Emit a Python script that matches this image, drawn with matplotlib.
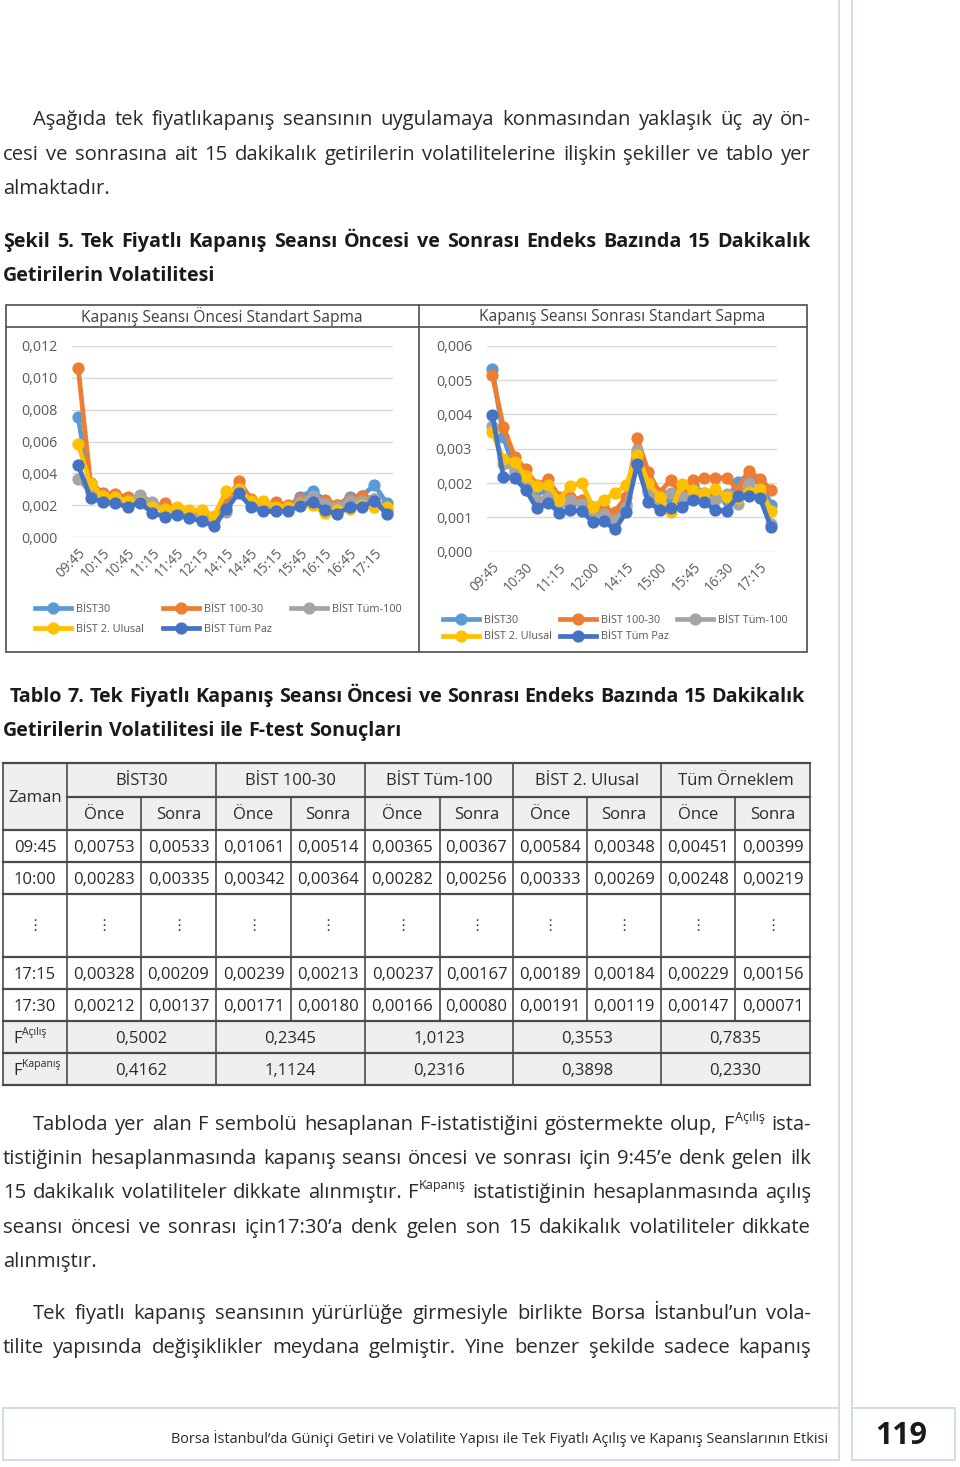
import numpy as np
import matplotlib
matplotlib.use('Agg')
import matplotlib.pyplot as plt
from matplotlib.patches import Rectangle
from matplotlib import font_manager

# 15-minute slots (lunch break between 12:30 and 14:15)
times = ['09:45', '10:00', '10:15', '10:30', '10:45', '11:00', '11:15', '11:30', '11:45',
         '12:00', '12:15', '12:30', '14:15', '14:30', '14:45', '15:00', '15:15', '15:30',
         '15:45', '16:00', '16:15', '16:30', '16:45', '17:00', '17:15', '17:30']
series_names = ['BİST30', 'BİST 100-30', 'BİST Tüm-100', 'BİST 2. Ulusal', 'BİST Tüm Paz']
colors = ['#5B9BD5', '#ED7D31', '#A5A5A5', '#FFC000', '#4472C4']

# standard deviation before the closing session
once_bist30 = [0.00753, 0.00283, 0.00260, 0.00250, 0.00230, 0.00230, 0.00200, 0.00180, 0.00170,
               0.00150, 0.00140, 0.00110, 0.00200, 0.00310, 0.00230, 0.00200, 0.00190, 0.00190,
               0.00255, 0.00292, 0.00230, 0.00200, 0.00255, 0.00260, 0.00328, 0.00212]
once_bist100_30 = [0.01061, 0.00342, 0.00276, 0.00271, 0.00250, 0.00230, 0.00190, 0.00215, 0.00180,
                   0.00160, 0.00150, 0.00120, 0.00210, 0.00355, 0.00240, 0.00200, 0.00220, 0.00200,
                   0.00240, 0.00230, 0.00234, 0.00205, 0.00240, 0.00260, 0.00239, 0.00171]
once_tum100 = [0.00365, 0.00282, 0.00260, 0.00240, 0.00230, 0.00265, 0.00220, 0.00180, 0.00160,
               0.00140, 0.00130, 0.00100, 0.00160, 0.00300, 0.00220, 0.00190, 0.00180, 0.00180,
               0.00220, 0.00260, 0.00210, 0.00190, 0.00230, 0.00230, 0.00237, 0.00166]
once_ulusal2 = [0.00584, 0.00333, 0.00260, 0.00250, 0.00230, 0.00220, 0.00190, 0.00180, 0.00192,
                0.00170, 0.00171, 0.00134, 0.00292, 0.00300, 0.00230, 0.00230, 0.00190, 0.00190,
                0.00200, 0.00200, 0.00150, 0.00170, 0.00180, 0.00200, 0.00189, 0.00191]
once_tumpaz = [0.00451, 0.00248, 0.00219, 0.00213, 0.00190, 0.00217, 0.00154, 0.00129, 0.00138,
               0.00119, 0.00103, 0.00069, 0.00178, 0.00276, 0.00190, 0.00162, 0.00162, 0.00164,
               0.00198, 0.00223, 0.00170, 0.00146, 0.00192, 0.00192, 0.00229, 0.00147]

# standard deviation after the closing session
sonra_bist30 = [0.00533, 0.00335, 0.00233, 0.00210, 0.00180, 0.00172, 0.00150, 0.00140, 0.00140,
                0.00110, 0.00110, 0.00100, 0.00140, 0.00290, 0.00180, 0.00150, 0.00150, 0.00152,
                0.00194, 0.00170, 0.00160, 0.00150, 0.00204, 0.00223, 0.00209, 0.00137]
sonra_bist100_30 = [0.00514, 0.00364, 0.00277, 0.00240, 0.00194, 0.00211, 0.00160, 0.00160, 0.00152,
                    0.00130, 0.00123, 0.00117, 0.00160, 0.00330, 0.00231, 0.00172, 0.00209, 0.00160,
                    0.00209, 0.00214, 0.00214, 0.00216, 0.00180, 0.00236, 0.00213, 0.00180]
sonra_tum100 = [0.00367, 0.00256, 0.00240, 0.00200, 0.00150, 0.00160, 0.00140, 0.00150, 0.00140,
                0.00100, 0.00110, 0.00092, 0.00130, 0.00296, 0.00170, 0.00140, 0.00170, 0.00160,
                0.00170, 0.00160, 0.00150, 0.00167, 0.00140, 0.00200, 0.00167, 0.00080]
sonra_ulusal2 = [0.00348, 0.00269, 0.00262, 0.00220, 0.00192, 0.00194, 0.00152, 0.00192, 0.00201,
                 0.00131, 0.00152, 0.00170, 0.00194, 0.00282, 0.00200, 0.00160, 0.00117, 0.00196,
                 0.00180, 0.00170, 0.00182, 0.00160, 0.00155, 0.00175, 0.00184, 0.00119]
sonra_tumpaz = [0.00399, 0.00219, 0.00214, 0.00180, 0.00126, 0.00143, 0.00114, 0.00121, 0.00119,
                0.00087, 0.00089, 0.00065, 0.00115, 0.00255, 0.00146, 0.00121, 0.00126, 0.00131,
                0.00150, 0.00144, 0.00121, 0.00119, 0.00162, 0.00162, 0.00156, 0.00071]

once = [once_bist30, once_bist100_30, once_tum100, once_ulusal2, once_tumpaz]
sonra = [sonra_bist30, sonra_bist100_30, sonra_tum100, sonra_ulusal2, sonra_tumpaz]

# table 7
table_groups = ['BİST30', 'BİST 100-30', 'BİST Tüm-100', 'BİST 2. Ulusal', 'Tüm Örneklem']
table_rows = [0, 1, 24, 25]  # rows shown: 09:45, 10:00, 17:15, 17:30
f_acilis = [0.5002, 0.2345, 1.0123, 0.3553, 0.7835]
f_kapanis = [0.4162, 1.1124, 0.2316, 0.3898, 0.2330]

W, H = 960, 1467
TEXT = '#2a2a2a'
BODY = ['Open Sans', 'DejaVu Sans']
names = {f.name for f in font_manager.fontManager.ttflist}
NARROW = ['Liberation Sans Narrow', 'DejaVu Sans'] if 'Liberation Sans Narrow' in names else BODY
plt.rcParams['font.family'] = BODY

fig = plt.figure(figsize=(W / 100, H / 100), dpi=100)
page = fig.add_axes([0, 0, 1, 1])
page.set_xlim(0, W)
page.set_ylim(H, 0)
page.axis('off')
renderer = fig.canvas.get_renderer()


def measure(s, size, weight='normal', family=BODY):
    t = page.text(0, 0, s, fontsize=size, fontweight=weight, family=family)
    w = t.get_window_extent(renderer).width
    t.remove()
    return w


def word_parts(word, size):
    # "F^Açılış" -> F with a raised small superscript
    if '^' in word:
        base, sup = word.split('^')
        return [(base, size, 0), (sup, size * 0.62, size * 1.389 * 0.45)]
    return [(word, size, 0)]


def natural_width(line, size, weight, family=BODY):
    words = line.split(' ')
    widths = [sum(measure(s, fs, weight, family) for s, fs, _ in word_parts(w, size)) for w in words]
    space = measure('a a', size, weight, family) - measure('aa', size, weight, family)
    return sum(widths) + space * (len(words) - 1)


def fit_size(lines, size, weight='normal'):
    # one common size for a block of justified lines, so no line overflows
    while any(natural_width(l, size, weight) > x1 - x0 for x0, x1, l in lines):
        size *= 0.99
    return size


def text_line(x0, x1, y, line, size=13.5, weight='normal', justify=True, family=BODY, color=TEXT):
    words = line.split(' ')
    parts = [word_parts(w, size) for w in words]
    widths = [sum(measure(s, fs, weight, family) for s, fs, _ in p) for p in parts]
    space = measure('a a', size, weight, family) - measure('aa', size, weight, family)
    gap = (x1 - x0 - sum(widths)) / (len(words) - 1) if justify else space
    x = x0
    for p, w in zip(parts, widths):
        xx = x
        for s, fs, rise in p:
            page.text(xx, y - rise, s, fontsize=fs, fontweight=weight, family=family,
                      color=color, va='baseline', ha='left')
            xx += measure(s, fs, weight, family)
        x += w + gap


# page decoration: margin rules and footer
rule_c = '#cddbe4'
page.plot([839, 839], [0, 1408], color=rule_c, lw=1.3)
page.plot([852, 852], [0, 1408], color=rule_c, lw=1.3)
page.add_patch(Rectangle((3, 1408), 836, 52, fill=False, ec=rule_c, lw=1.3))
page.add_patch(Rectangle((852, 1408), 103, 52, fill=False, ec=rule_c, lw=1.3))
footer = 'Borsa İstanbul’da Güniçi Getiri ve Volatilite Yapısı ile Tek Fiyatlı Açılış ve Kapanış Seanslarının Etkisi'
fsize = 11 * 658 / measure(footer, 11, family=NARROW)
page.text(828, 1443, footer, fontsize=fsize, family=NARROW, color=TEXT, ha='right', va='baseline')
page.text(901, 1444, '119', fontsize=22, family=NARROW, fontweight='bold', color='#1a1a1a',
          ha='center', va='baseline')

# body text
body_lines = [
    (33, 811, 125, 'Aşağıda tek fiyatlıkapanış seansının uygulamaya konmasından yaklaşık üç ay ön-', True),
    (3, 811, 160, 'cesi ve sonrasına ait 15 dakikalık getirilerin volatilitelerine ilişkin şekiller ve tablo yer', True),
    (3, 811, 194, 'almaktadır.', False),
    (33, 811, 1130, 'Tabloda yer alan F sembolü hesaplanan F-istatistiğini göstermekte olup, F^Açılış ista-', True),
    (3, 811, 1164, 'tistiğinin hesaplanmasında kapanış seansı öncesi ve sonrası için 9:45’e denk gelen ilk', True),
    (3, 811, 1198, '15 dakikalık volatiliteler dikkate alınmıştır. F^Kapanış istatistiğinin hesaplanmasında açılış', True),
    (3, 811, 1233, 'seansı öncesi ve sonrası için17:30’a denk gelen son 15 dakikalık volatiliteler dikkate', True),
    (3, 811, 1267, 'alınmıştır.', False),
    (33, 811, 1319, 'Tek fiyatlı kapanış seansının yürürlüğe girmesiyle birlikte Borsa İstanbul’un vola-', True),
    (3, 811, 1353, 'tilite yapısında değişiklikler meydana gelmiştir. Yine benzer şekilde sadece kapanış', True),
]
head_lines = [
    (3, 811, 247, 'Şekil 5. Tek Fiyatlı Kapanış Seansı Öncesi ve Sonrası Endeks Bazında 15 Dakikalık', True),
    (3, 811, 281, 'Getirilerin Volatilitesi', False),
    (10, 805, 702, 'Tablo 7. Tek Fiyatlı Kapanış Seansı Öncesi ve Sonrası Endeks Bazında 15 Dakikalık', True),
    (3, 811, 736, 'Getirilerin Volatilitesi ile F-test Sonuçları', False),
]
bsize = fit_size([(a, b, l) for a, b, _, l, j in body_lines if j], 15.2)
hsize = fit_size([(a, b, l) for a, b, _, l, j in head_lines if j], 14.8, 'bold')
for x0, x1, y, l, j in body_lines:
    text_line(x0, x1, y, l, size=bsize, justify=j)
for x0, x1, y, l, j in head_lines:
    text_line(x0, x1, y, l, size=hsize, weight='bold', justify=j, color='#1a1a1a')

# figure frame
frame_c = '#5a5a5a'
page.add_patch(Rectangle((6, 305), 801, 347, fill=False, ec=frame_c, lw=1.3))
page.plot([419, 419], [305, 652], color=frame_c, lw=1.3)
page.plot([6, 807], [327, 327], color=frame_c, lw=1.3)
page.text(222, 317, 'Kapanış Seansı Öncesi Standart Sapma', fontsize=11.2, color='#404040',
          ha='center', va='center')
page.text(622, 317, 'Kapanış Seansı Sonrası Standart Sapma', fontsize=11.2, color='#404040',
          ha='center', va='center')


def px_axes(x0, y0, x1, y1):
    return fig.add_axes([x0 / W, 1 - y1 / H, (x1 - x0) / W, (y1 - y0) / H])


def draw_chart(ax, data, ymax, step, every, leg_xy, colspace, rowspace):
    x = np.arange(len(times))
    handles = []
    for vals, name, c in zip(data, series_names, colors):
        h, = ax.plot(x, vals, color=c, lw=3.4, marker='o', ms=7.8, label=name, clip_on=False)
        handles.append(h)
    ax.set_facecolor('none')
    ax.set_xlim(-0.5, len(times) - 0.5)
    ax.set_ylim(0, ymax)
    yt = np.arange(0, ymax + step / 2, step)
    ax.set_yticks(yt)
    ax.set_yticklabels([f'{v:.3f}'.replace('.', ',') for v in yt])
    ax.set_xticks(x[::every])
    ax.set_xticklabels(times[::every], rotation=45, ha='right', rotation_mode='anchor')
    ax.grid(axis='y', color='#d9d9d9', lw=1)
    ax.set_axisbelow(True)
    for s in ax.spines.values():
        s.set_visible(False)
    ax.tick_params(axis='y', length=0, labelsize=10.3, colors='#595959', pad=10.5)
    ax.tick_params(axis='x', length=0, labelsize=9.8, colors='#595959', pad=6)
    order = [0, 3, 1, 4, 2]
    leg = ax.legend([handles[i] for i in order], [series_names[i] for i in order], ncol=3,
                    loc='upper left', bbox_to_anchor=(leg_xy[0] / W, 1 - leg_xy[1] / H),
                    bbox_transform=fig.transFigure, frameon=False, fontsize=7.8,
                    handlelength=3.3, handletextpad=0.45, columnspacing=colspace,
                    labelspacing=rowspace, borderpad=0, borderaxespad=0)
    for t in leg.get_texts():
        t.set_color('#595959')


ax1 = px_axes(72, 345.7, 393, 537.3)
draw_chart(ax1, once, 0.012, 0.002, 2, (35, 604), 1.8, 0.85)
ax2 = px_axes(486.7, 345.7, 776.7, 551.7)
draw_chart(ax2, sonra, 0.006, 0.001, 3, (443, 615), 0.8, 0.5)

# table
col_x = [3, 67, 141, 216, 291, 365, 440, 513, 587, 661, 735, 810]
row_y = [763, 797, 830, 862, 894, 957, 989, 1021, 1053, 1085]
head_bg = '#efefef'
line_c = '#4a4a4a'
tsize = 13.5 if NARROW[0] != 'Open Sans' else 12
page.add_patch(Rectangle((col_x[0], row_y[0]), col_x[-1] - col_x[0], row_y[2] - row_y[0],
                         fc=head_bg, ec='none'))
page.add_patch(Rectangle((col_x[0], row_y[7]), col_x[-1] - col_x[0], row_y[9] - row_y[7],
                         fc=head_bg, ec='none'))
for i, y in enumerate(row_y):
    xs = col_x[1] if i == 1 else col_x[0]
    page.plot([xs, col_x[-1]], [y, y], color=line_c, lw=1.6)
for j, x in enumerate(col_x):
    if j % 2 == 1 or j == 0:
        page.plot([x, x], [row_y[0], row_y[-1]], color=line_c, lw=1.2)
    else:
        page.plot([x, x], [row_y[1], row_y[7]], color=line_c, lw=1.2)

page.text(35, row_y[1] + 5, 'Zaman', fontsize=tsize, family=NARROW, color=TEXT, ha='center', va='baseline')
for g, name in enumerate(table_groups):
    cx = (col_x[1 + 2 * g] + col_x[3 + 2 * g]) / 2
    page.text(cx, row_y[0] + 22, name, fontsize=tsize, family=NARROW, color=TEXT, ha='center', va='baseline')
    for k, lab in enumerate(['Önce', 'Sonra']):
        cx2 = (col_x[1 + 2 * g + k] + col_x[2 + 2 * g + k]) / 2
        page.text(cx2, row_y[1] + 22, lab, fontsize=tsize, family=NARROW, color=TEXT,
                  ha='center', va='baseline')

data_row_y = {0: row_y[2], 1: row_y[3], 24: row_y[5], 25: row_y[6]}
for r in table_rows:
    yb = data_row_y[r] + 22
    page.text(35, yb, times[r], fontsize=tsize, family=NARROW, color=TEXT, ha='center', va='baseline')
    for g in range(5):
        for k, src in enumerate([once, sonra]):
            cx = (col_x[1 + 2 * g + k] + col_x[2 + 2 * g + k]) / 2
            page.text(cx, yb, f'{src[g][r]:.5f}'.replace('.', ','), fontsize=tsize, family=NARROW,
                      color=TEXT, ha='center', va='baseline')
for j in range(11):
    cx = (col_x[j] + col_x[j + 1]) / 2
    page.text(cx, (row_y[4] + row_y[5]) / 2, '⋮', fontsize=11, family=['DejaVu Sans'], color='#444444',
              ha='center', va='center')

for i, (lab, vals) in enumerate([('F^Açılış', f_acilis), ('F^Kapanış', f_kapanis)]):
    yb = row_y[7 + i] + 22
    text_line(13, 60, yb, lab, size=tsize, justify=False, family=NARROW)
    for g in range(5):
        cx = (col_x[1 + 2 * g] + col_x[3 + 2 * g]) / 2
        page.text(cx, yb, f'{vals[g]:.4f}'.replace('.', ','), fontsize=tsize, family=NARROW,
                  color=TEXT, ha='center', va='baseline')

fig.savefig('out.png', dpi=100, facecolor='white')
